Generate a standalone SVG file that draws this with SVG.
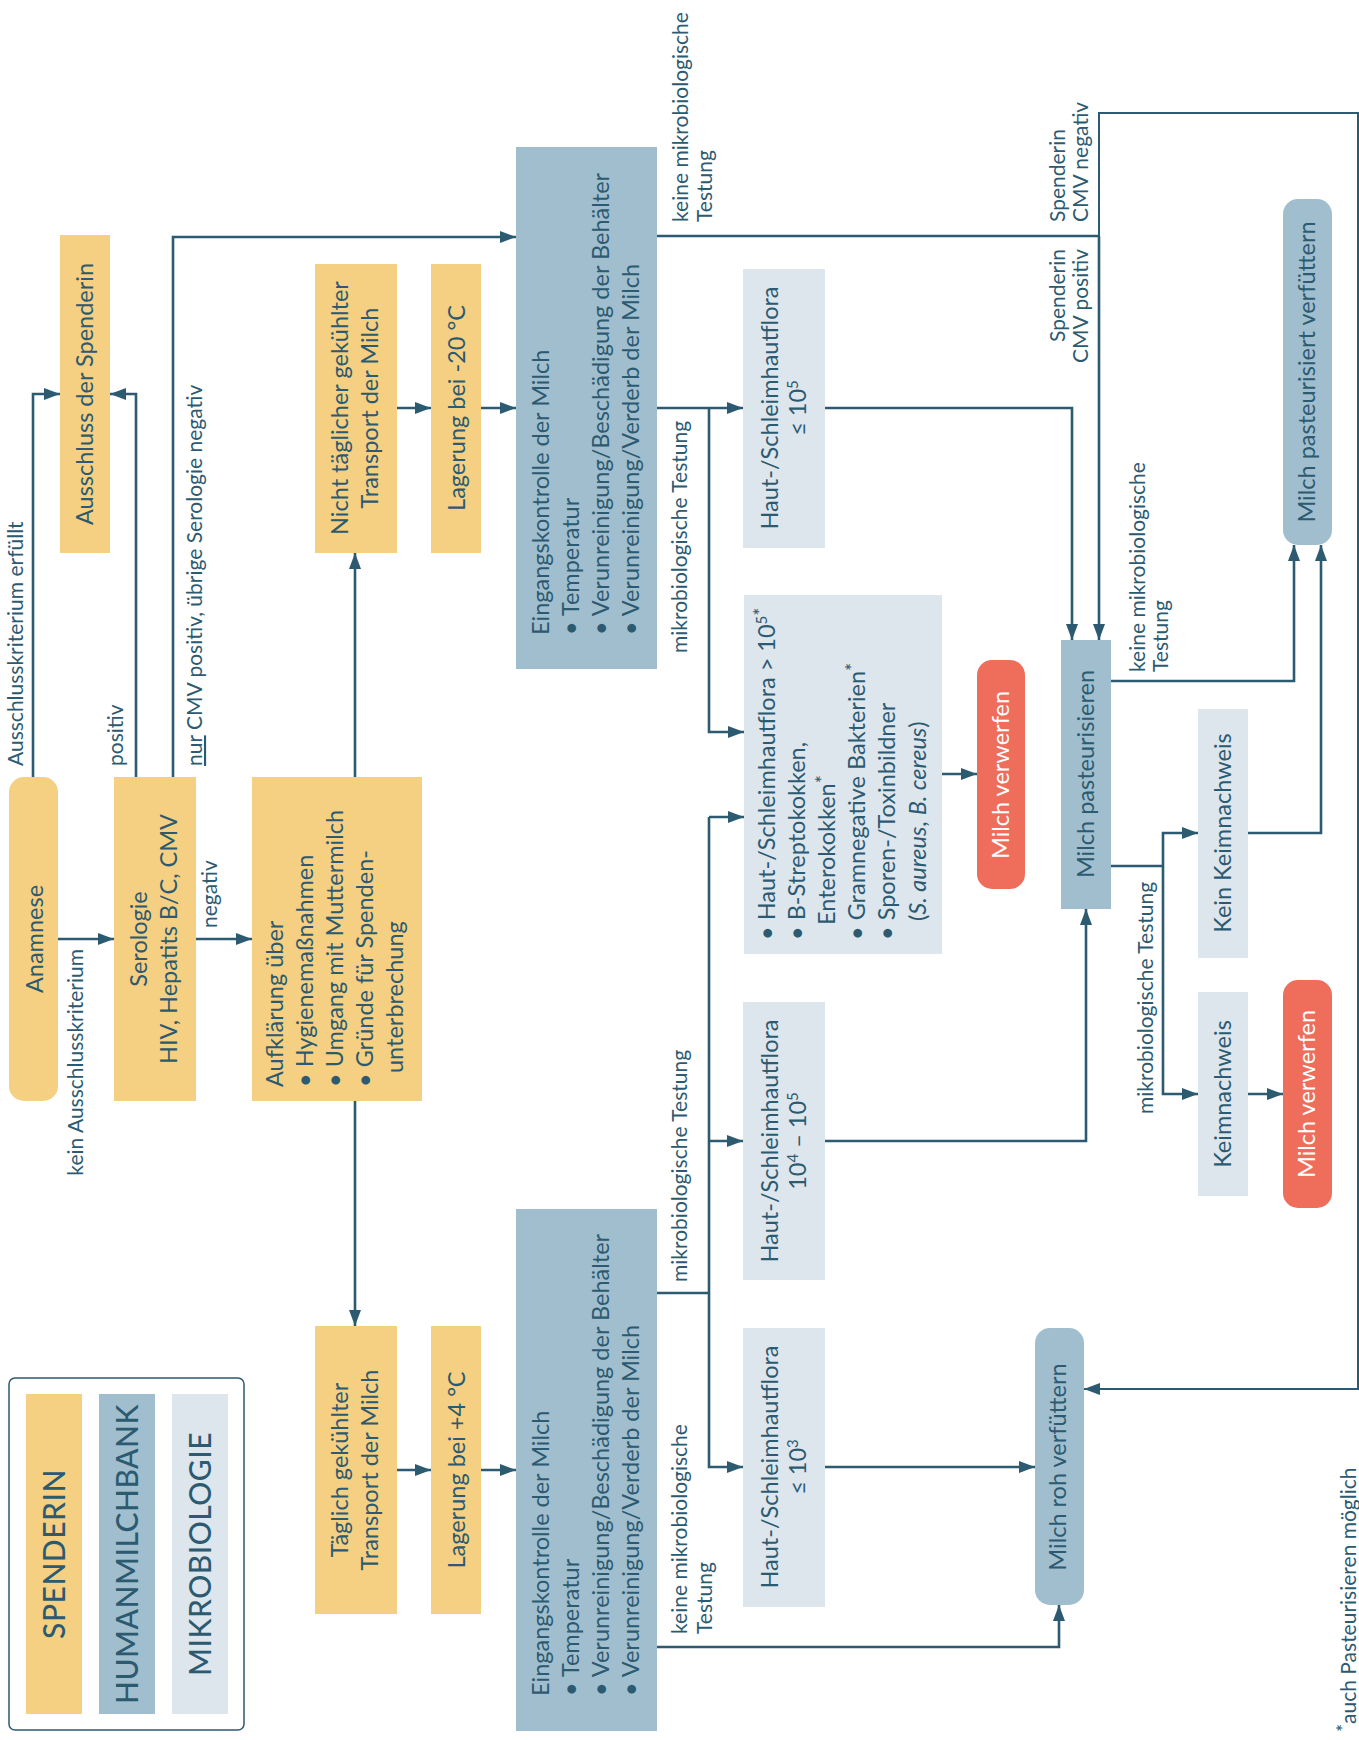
<svg xmlns="http://www.w3.org/2000/svg" width="1359" height="1740" viewBox="0 0 1359 1740">
<defs>
<style>
.y{fill:#F5CF82}.b{fill:#A0BECE}.l{fill:#DDE5ED}.r{fill:#EE6E5B}
.t{font-family:Lato,"Liberation Sans",sans-serif;font-size:23.5px;fill:#2C5A70}
.s{font-size:21px}
.m{text-anchor:middle}.e{text-anchor:end}
.w{fill:#ffffff}
.c{fill:none;stroke:#2C5A70;stroke-width:2.6}
.a{marker-end:url(#ah)}
.lg{font-size:30px;font-weight:500;letter-spacing:0.5px}
.sup{font-size:15px}
.ast{font-size:19px}
</style>
<marker id="ah" markerUnits="userSpaceOnUse" markerWidth="16" markerHeight="12" refX="16" refY="6" orient="auto">
<path d="M0,0 L16,6 L0,12 z" fill="#2C5A70"/>
</marker>
</defs>
<rect width="1359" height="1740" fill="#ffffff"/>

<g id="connectors">
<path class="c a" d="M33,777 V394 H60"/>
<path class="c a" d="M136,777 V394 H110"/>
<path class="c a" d="M173,777 V237 H516"/>
<path class="c a" d="M58,939 H114"/>
<path class="c a" d="M196,939 H252"/>
<path class="c a" d="M355,777 V553"/>
<path class="c a" d="M355,1101 V1326"/>
<path class="c a" d="M397,408 H431"/>
<path class="c a" d="M481,408 H516"/>
<path class="c a" d="M397,1470 H431"/>
<path class="c a" d="M481,1470 H516"/>
<path class="c" d="M657,236 H1099"/>
<path class="c a" style="stroke-width:2" d="M1099,236 V113 H1358 V1389 H1084"/>
<path class="c a" d="M1099,236 V640"/>
<path class="c a" d="M657,408 H743"/>
<path class="c a" d="M709,408 V732 H744"/>
<path class="c a" d="M825,408 H1072 V640"/>
<path class="c a" d="M942,774 H977"/>
<path class="c" d="M657,1293 H709"/>
<path class="c a" d="M709,817 V1467 H743"/>
<path class="c a" d="M709,817 H744"/>
<path class="c a" d="M709,1141 H743"/>
<path class="c a" d="M825,1141 H1086 V909"/>
<path class="c a" d="M825,1467 H1035"/>
<path class="c a" d="M657,1647 H1059 V1605"/>
<path class="c a" d="M1111,681 H1294 V545"/>
<path class="c" d="M1111,866 H1163"/>
<path class="c a" d="M1163,866 V833 H1198"/>
<path class="c a" d="M1163,866 V1094 H1198"/>
<path class="c a" d="M1248,833 H1321 V545"/>
<path class="c a" d="M1248,1094 H1283"/>
</g>

<g id="labels">
<text class="t s" transform="translate(23 766) rotate(-90)">Ausschlusskriterium erfüllt</text>
<text class="t s" transform="translate(123 766) rotate(-90)">positiv</text>
<text class="t s" transform="translate(202 766) rotate(-90)"><tspan text-decoration="underline">nur</tspan> CMV positiv, übrige Serologie negativ</text>
<text class="t s e" transform="translate(83 949) rotate(-90)">kein Ausschlusskriterium</text>
<text class="t s" transform="translate(217 928) rotate(-90)">negativ</text>
<text class="t s" transform="translate(688 222) rotate(-90)">keine mikrobiologische</text>
<text class="t s" transform="translate(712 222) rotate(-90)">Testung</text>
<text class="t s" transform="translate(687 653) rotate(-90)">mikrobiologische Testung</text>
<text class="t s" transform="translate(1065 222) rotate(-90)">Spenderin</text>
<text class="t s" transform="translate(1088 222) rotate(-90)">CMV negativ</text>
<text class="t s e" transform="translate(1065 249) rotate(-90)">Spenderin</text>
<text class="t s e" transform="translate(1088 249) rotate(-90)">CMV positiv</text>
<text class="t s" transform="translate(1145 672) rotate(-90)">keine mikrobiologische</text>
<text class="t s" transform="translate(1168 672) rotate(-90)">Testung</text>
<text class="t s" transform="translate(1153 1114) rotate(-90)">mikrobiologische Testung</text>
<text class="t s" transform="translate(687 1282) rotate(-90)">mikrobiologische Testung</text>
<text class="t s" transform="translate(687 1634) rotate(-90)">keine mikrobiologische</text>
<text class="t s" transform="translate(712 1634) rotate(-90)">Testung</text>
<text class="t s" transform="translate(1356 1732) rotate(-90)"><tspan dy="-6" class="ast">*</tspan><tspan dy="6">auch Pasteurisieren möglich</tspan></text>
</g>

<g id="ausschluss">
<rect class="y" x="60" y="235" width="50" height="318"/>
<text class="t m" transform="translate(93 394) rotate(-90)">Ausschluss der Spenderin</text>
</g>
<g id="anamnese">
<rect class="y" x="9" y="777" width="49" height="324" rx="15"/>
<text class="t m" transform="translate(43 939) rotate(-90)">Anamnese</text>
</g>
<g id="serologie">
<rect class="y" x="114" y="777" width="82" height="324"/>
<text class="t m" transform="translate(147 939) rotate(-90)">Serologie</text>
<text class="t m" transform="translate(177 939) rotate(-90)">HIV, Hepatits B/C, CMV</text>
</g>
<g id="aufklaerung">
<rect class="y" x="252" y="777" width="170" height="324"/>
<text class="t" transform="translate(283 1087) rotate(-90)">Aufklärung über</text>
<text class="t" transform="translate(313 1087) rotate(-90)">• Hygienemaßnahmen</text>
<text class="t" transform="translate(343 1087) rotate(-90)">• Umgang mit Muttermilch</text>
<text class="t" transform="translate(373 1087) rotate(-90)">• Gründe für Spenden-</text>
<text class="t" transform="translate(403 1073) rotate(-90)">unterbrechung</text>
</g>
<g id="nicht-taeglich">
<rect class="y" x="315" y="264" width="82" height="289"/>
<text class="t m" transform="translate(348 408) rotate(-90)">Nicht täglicher gekühlter</text>
<text class="t m" transform="translate(378 408) rotate(-90)">Transport der Milch</text>
</g>
<g id="lagerung-20">
<rect class="y" x="431" y="264" width="50" height="289"/>
<text class="t m" transform="translate(465 408) rotate(-90)">Lagerung bei -20 °C</text>
</g>
<g id="taeglich">
<rect class="y" x="315" y="1326" width="82" height="288"/>
<text class="t m" transform="translate(348 1470) rotate(-90)">Täglich gekühlter</text>
<text class="t m" transform="translate(378 1470) rotate(-90)">Transport der Milch</text>
</g>
<g id="lagerung4">
<rect class="y" x="431" y="1326" width="50" height="288"/>
<text class="t m" transform="translate(465 1470) rotate(-90)">Lagerung bei +4 °C</text>
</g>
<g id="eingang-oben">
<rect class="b" x="516" y="147" width="141" height="522"/>
<text class="t" transform="translate(549 635) rotate(-90)">Eingangskontrolle der Milch</text>
<text class="t" transform="translate(579 635) rotate(-90)">• Temperatur</text>
<text class="t" transform="translate(609 635) rotate(-90)">• Verunreinigung/Beschädigung der Behälter</text>
<text class="t" transform="translate(639 635) rotate(-90)">• Verunreinigung/Verderb der Milch</text>
</g>
<g id="eingang-unten">
<rect class="b" x="516" y="1209" width="141" height="522"/>
<text class="t" transform="translate(549 1696) rotate(-90)">Eingangskontrolle der Milch</text>
<text class="t" transform="translate(579 1696) rotate(-90)">• Temperatur</text>
<text class="t" transform="translate(609 1696) rotate(-90)">• Verunreinigung/Beschädigung der Behälter</text>
<text class="t" transform="translate(639 1696) rotate(-90)">• Verunreinigung/Verderb der Milch</text>
</g>
<g id="haut-le5">
<rect class="l" x="743" y="269" width="82" height="279"/>
<text class="t m" transform="translate(778 408) rotate(-90)">Haut-/Schleimhautflora</text>
<text class="t m" transform="translate(806 408) rotate(-90)">≤ 10<tspan dy="-8" class="sup">5</tspan></text>
</g>
<g id="haut-gt5">
<rect class="l" x="744" y="595" width="198" height="359"/>
<text class="t" transform="translate(775 940) rotate(-90)">• Haut-/Schleimhautflora &gt; 10<tspan dy="-8" class="sup">5</tspan><tspan class="ast">*</tspan></text>
<text class="t" transform="translate(805 940) rotate(-90)">• B-Streptokokken,</text>
<text class="t" transform="translate(835 925) rotate(-90)">Enterokokken<tspan dy="-6" class="ast">*</tspan></text>
<text class="t" transform="translate(865 940) rotate(-90)">• Gramnegative Bakterien<tspan dy="-6" class="ast">*</tspan></text>
<text class="t" transform="translate(895 940) rotate(-90)">• Sporen-/Toxinbildner</text>
<text class="t" transform="translate(926 921) rotate(-90)">(<tspan font-style="italic">S. aureus</tspan>, <tspan font-style="italic">B. cereus</tspan>)</text>
</g>
<g id="haut-4-5">
<rect class="l" x="743" y="1002" width="82" height="278"/>
<text class="t m" transform="translate(778 1141) rotate(-90)">Haut-/Schleimhautflora</text>
<text class="t m" transform="translate(806 1141) rotate(-90)">10<tspan dy="-8" class="sup">4</tspan><tspan dy="8"> – 10</tspan><tspan dy="-8" class="sup">5</tspan></text>
</g>
<g id="haut-le3">
<rect class="l" x="743" y="1328" width="82" height="279"/>
<text class="t m" transform="translate(778 1467) rotate(-90)">Haut-/Schleimhautflora</text>
<text class="t m" transform="translate(806 1467) rotate(-90)">≤ 10<tspan dy="-8" class="sup">3</tspan></text>
</g>
<g id="verwerfen-1">
<rect class="r" x="977" y="660" width="48" height="229" rx="15"/>
<text class="t m w" transform="translate(1009 775) rotate(-90)">Milch verwerfen</text>
</g>
<g id="pasteurisieren">
<rect class="b" x="1061" y="640" width="50" height="269"/>
<text class="t m" transform="translate(1094 774) rotate(-90)">Milch pasteurisieren</text>
</g>
<g id="pasteurisiert-verfuettern">
<rect class="b" x="1283" y="199" width="49" height="346" rx="15"/>
<text class="t m" transform="translate(1315 372) rotate(-90)">Milch pasteurisiert verfüttern</text>
</g>
<g id="kein-keimnachweis">
<rect class="l" x="1198" y="709" width="50" height="249"/>
<text class="t m" transform="translate(1231 833) rotate(-90)">Kein Keimnachweis</text>
</g>
<g id="keimnachweis">
<rect class="l" x="1198" y="992" width="50" height="204"/>
<text class="t m" transform="translate(1231 1094) rotate(-90)">Keimnachweis</text>
</g>
<g id="verwerfen-2">
<rect class="r" x="1283" y="980" width="49" height="228" rx="15"/>
<text class="t m w" transform="translate(1315 1094) rotate(-90)">Milch verwerfen</text>
</g>
<g id="roh-verfuettern">
<rect class="b" x="1035" y="1328" width="49" height="277" rx="15"/>
<text class="t m" transform="translate(1066 1467) rotate(-90)">Milch roh verfüttern</text>
</g>

<g id="legend">
<rect x="9" y="1378" width="235" height="352" rx="6" fill="#ffffff" stroke="#2C5A70" stroke-width="1.5"/>
<rect class="y" x="26" y="1394" width="56" height="320"/>
<rect class="b" x="99" y="1394" width="56" height="320"/>
<rect class="l" x="172" y="1394" width="56" height="320"/>
<text class="t m lg" transform="translate(65 1554) rotate(-90)">SPENDERIN</text>
<text class="t m lg" transform="translate(138 1554) rotate(-90)">HUMANMILCHBANK</text>
<text class="t m lg" transform="translate(211 1554) rotate(-90)">MIKROBIOLOGIE</text>
</g>
</svg>
